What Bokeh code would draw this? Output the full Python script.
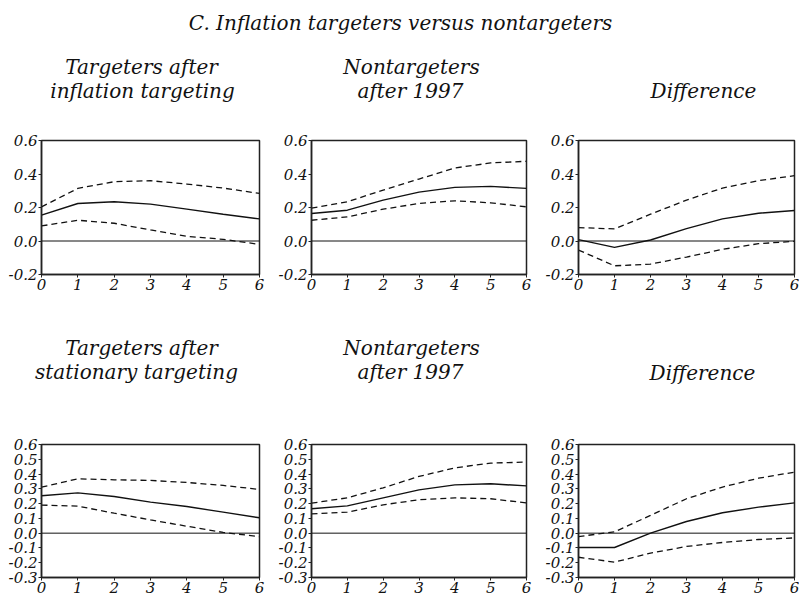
from bokeh.plotting import figure
from bokeh.layouts import column, row
from bokeh.models import Range1d, FixedTicker, PrintfTickFormatter, Span
from bokeh.embed import file_html
from bokeh.resources import INLINE
from bokeh.core.properties import value

FONT = "DejaVu Serif"

main_title = "C. Inflation targeters versus nontargeters"
horizons = [0, 1, 2, 3, 4, 5, 6]

top_yticks = [-0.2, 0.0, 0.2, 0.4, 0.6]
bottom_yticks = [-0.3, -0.2, -0.1, 0.0, 0.1, 0.2, 0.3, 0.4, 0.5, 0.6]

# Row 1 panel titles
row1_titles = ["Targeters after", "inflation targeting",
               "Nontargeters", "after 1997", "Difference"]
# Row 2 panel titles
row2_titles = ["Targeters after", "stationary targeting",
               "Nontargeters", "after 1997", "Difference"]

# Row 1
p1_mid = [0.154, 0.224, 0.234, 0.220, 0.190, 0.160, 0.132]
p1_up = [0.204, 0.314, 0.354, 0.360, 0.340, 0.316, 0.284]
p1_lo = [0.090, 0.124, 0.106, 0.066, 0.028, 0.010, -0.020]

p2_mid = [0.164, 0.184, 0.244, 0.292, 0.320, 0.326, 0.314]
p2_up = [0.196, 0.234, 0.304, 0.370, 0.436, 0.466, 0.476]
p2_lo = [0.124, 0.144, 0.190, 0.224, 0.240, 0.228, 0.204]

p3_mid = [0.008, -0.038, 0.006, 0.074, 0.132, 0.166, 0.182]
p3_up = [0.080, 0.072, 0.160, 0.244, 0.316, 0.360, 0.390]
p3_lo = [-0.054, -0.148, -0.138, -0.096, -0.050, -0.016, -0.002]

# Row 2
p4_mid = [0.253, 0.273, 0.248, 0.210, 0.180, 0.142, 0.104]
p4_up = [0.311, 0.368, 0.361, 0.357, 0.343, 0.323, 0.296]
p4_lo = [0.190, 0.183, 0.135, 0.090, 0.047, 0.005, -0.023]

p5_mid = [0.165, 0.185, 0.239, 0.293, 0.327, 0.334, 0.320]
p5_up = [0.203, 0.239, 0.307, 0.384, 0.442, 0.474, 0.481]
p5_lo = [0.131, 0.142, 0.192, 0.226, 0.239, 0.233, 0.205]

p6_mid = [-0.097, -0.097, 0.000, 0.079, 0.138, 0.176, 0.205]
p6_up = [-0.023, 0.009, 0.120, 0.233, 0.312, 0.372, 0.413]
p6_lo = [-0.163, -0.196, -0.135, -0.090, -0.063, -0.043, -0.032]

W = 799
INK = "#111111"


def strip(height, xs, ys, texts):
    s = figure(width=W, height=height, x_range=Range1d(0, W),
               y_range=Range1d(0, height), toolbar_location=None,
               output_backend="svg", x_axis_type=None, y_axis_type=None,
               min_border=0)
    s.xgrid.visible = False
    s.ygrid.visible = False
    s.outline_line_color = None
    s.text(x=xs, y=ys, text=texts, text_font=value(FONT),
           text_font_style="italic", text_font_size="20px",
           text_align="center", text_baseline="middle", text_color=INK)
    return s


def panel(width, left, right, height, top, bottom, ymin, yticks, mid, up, lo):
    p = figure(width=width, height=height,
               x_range=Range1d(0, 6), y_range=Range1d(ymin, 0.6),
               toolbar_location=None, output_backend="svg",
               min_border_left=left, min_border_right=right,
               min_border_top=top, min_border_bottom=bottom)
    p.background_fill_color = "white"
    p.border_fill_color = "white"
    p.outline_line_color = "#222222"
    p.outline_line_width = 1.5
    p.xgrid.visible = False
    p.ygrid.visible = False
    for ax in (p.xaxis, p.yaxis):
        ax.axis_line_color = "#222222"
        ax.axis_line_width = 1.5
        ax.major_tick_line_color = "#222222"
        ax.major_tick_out = 3
        ax.major_tick_in = 0
        ax.minor_tick_line_color = None
        ax.major_label_text_font = FONT
        ax.major_label_text_font_style = "italic"
        ax.major_label_text_font_size = "15px"
        ax.major_label_text_color = INK
        ax.major_label_standoff = 1
    p.xaxis.ticker = FixedTicker(ticks=horizons)
    p.yaxis.ticker = FixedTicker(ticks=yticks)
    p.yaxis.formatter = PrintfTickFormatter(format="%.1f")

    p.add_layout(Span(location=0, dimension="width", line_color=INK,
                      line_width=1))
    p.line(horizons, mid, line_color=INK, line_width=1.4)
    p.line(horizons, up, line_color=INK, line_width=1.3, line_dash="6 4")
    p.line(horizons, lo, line_color=INK, line_width=1.3, line_dash="6 4")
    return p


# strip A: 0..120 (main title + row-1 titles)
HA = 120
sA = strip(HA,
           [400, 141, 142, 411, 410, 703],
           [HA - 22, HA - 66, HA - 90, HA - 66, HA - 90, HA - 90],
           [main_title] + row1_titles)

# row 1 figures: 120..300, frame 140..274
H1, T1, B1 = 180, 20, 26
f1 = panel(275, 41, 16, H1, T1, B1, -0.2, top_yticks, p1_mid, p1_up, p1_lo)
f2 = panel(267, 33, 16, H1, T1, B1, -0.2, top_yticks, p2_mid, p2_up, p2_lo)
f3 = panel(257, 34, 5, H1, T1, B1, -0.2, top_yticks, p3_mid, p3_up, p3_lo)

# strip B: 300..420 (row-2 titles)
HB = 120
sB = strip(HB,
           [141, 136, 411, 410, 702],
           [HB - 47, HB - 71, HB - 47, HB - 71, HB - 72],
           row2_titles)

# row 2 figures: 420..598, frame 444..577
H2, T2, B2 = 178, 24, 21
f4 = panel(275, 41, 16, H2, T2, B2, -0.3, bottom_yticks, p4_mid, p4_up, p4_lo)
f5 = panel(267, 33, 16, H2, T2, B2, -0.3, bottom_yticks, p5_mid, p5_up, p5_lo)
f6 = panel(257, 34, 5, H2, T2, B2, -0.3, bottom_yticks, p6_mid, p6_up, p6_lo)

layout = column(sA, row(f1, f2, f3), sB, row(f4, f5, f6))

open("out.html", "w").write(file_html(layout, INLINE))
